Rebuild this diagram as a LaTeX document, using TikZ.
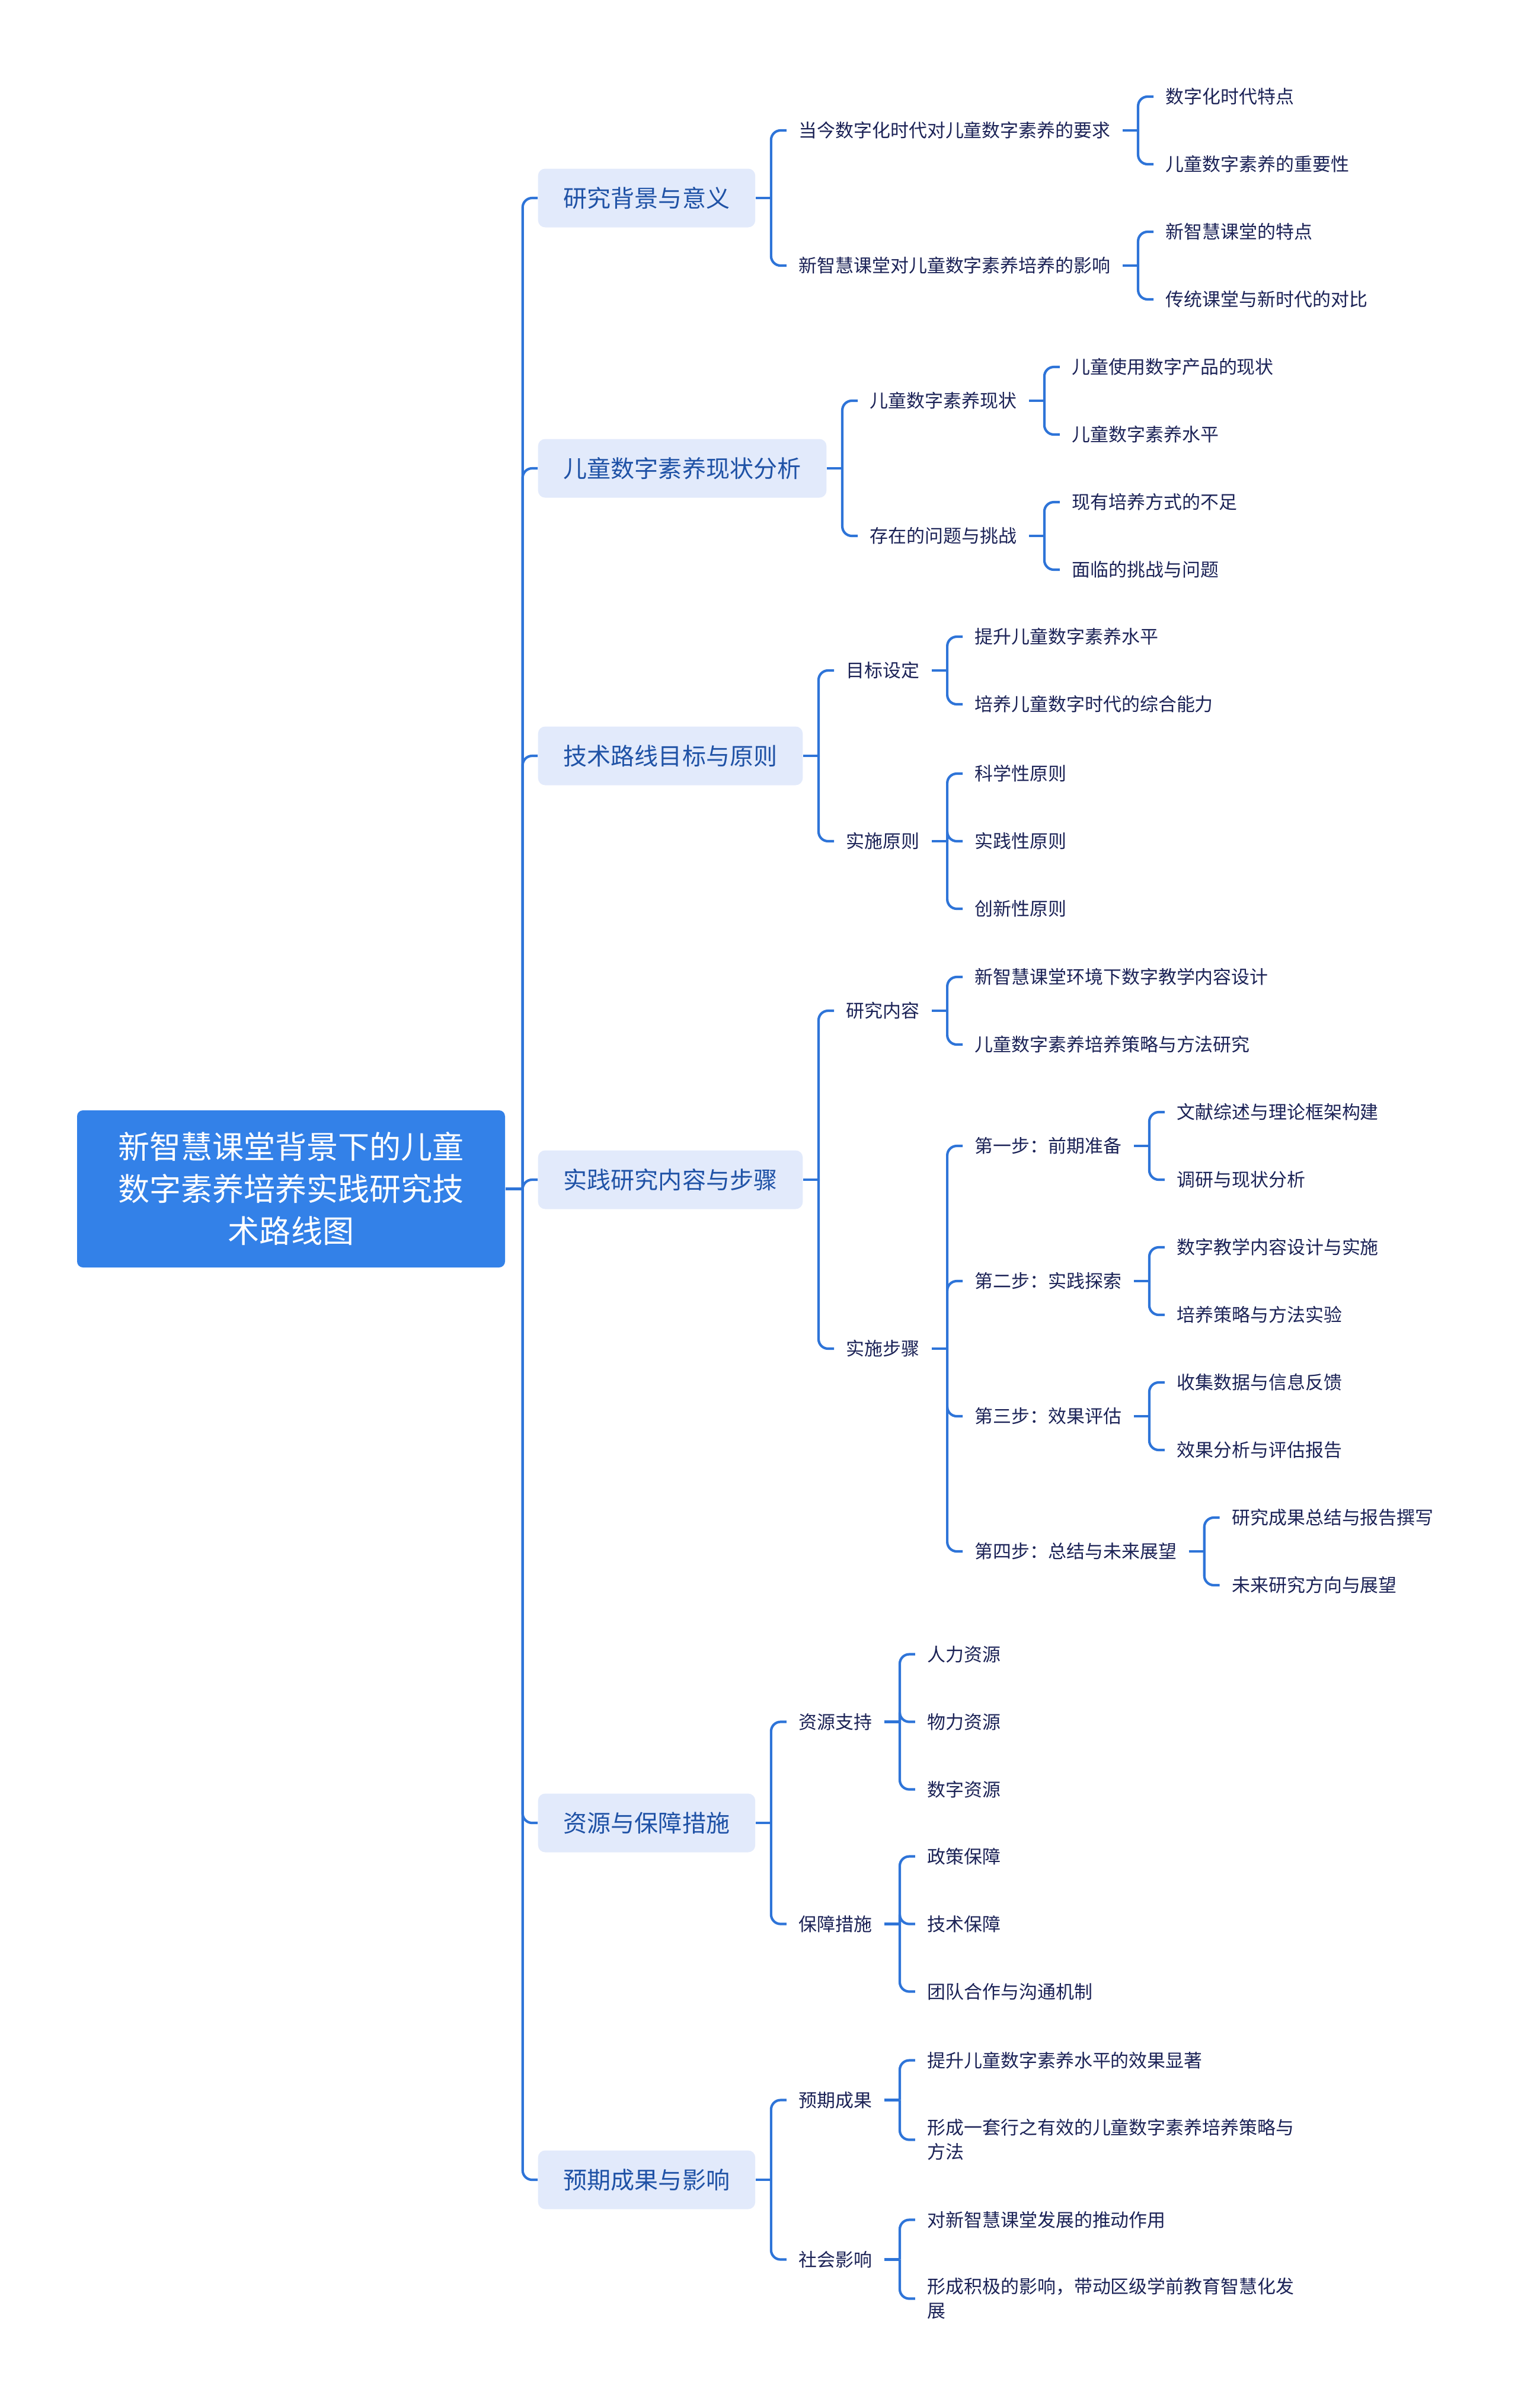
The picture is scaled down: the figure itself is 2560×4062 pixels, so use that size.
\documentclass[tikz,border=0pt]{standalone}
\usepackage{fontspec}
\setmainfont{Noto Sans CJK SC}
\usepackage{xcolor}
\usepackage{tikz}
\usetikzlibrary{positioning,calc}
\definecolor{rootblue}{HTML}{3381E8}
\definecolor{topicfill}{HTML}{E2EAFB}
\definecolor{topicink}{HTML}{1F52A6}
\definecolor{leafink}{HTML}{1B2256}
\definecolor{linkblue}{HTML}{2E74D8}
\tikzset{
  % ---- blocks ---------------------------------------------------------
  rootbox/.style={
    fill=rootblue, rounded corners=1mm, text=white,
    minimum width=72.2mm, minimum height=26.5mm, align=center,
    font=\fontsize{15.1pt}{20.2pt}\selectfont},
  topic/.style={
    fill=topicfill, rounded corners=1.2mm, text=topicink, anchor=west,
    minimum height=9.9mm, inner xsep=4.3mm,
    font=\fontsize{11.4pt}{14pt}\selectfont},
  leaf/.style={
    text=leafink, anchor=west, align=left, inner xsep=2mm, inner ysep=1mm,
    font=\fontsize{8.8pt}{11.7pt}\selectfont},
  % ---- connections ----------------------------------------------------
  link/.style={draw=linkblue, line width=0.42mm, rounded corners=1.6mm},
}

\begin{document}
\begin{tikzpicture}[x=0.1mm, y=-0.1mm]
\useasboundingbox (0,0) rectangle (2560,4062);

% ---------------- root and main topics -------------------------------
\node[rootbox] (root) at (491,2005.5)
  {新智慧课堂背景下的儿童\\数字素养培养实践研究技\\术路线图};
\coordinate (hub) at ([xshift=2.9mm]root.east);
\draw[link] (root.east) -- (hub);

\node[topic] (bg)   at (907,334)  {研究背景与意义};
\node[topic] (now)  at (907,790)  {儿童数字素养现状分析};
\node[topic] (goal) at (907,1275) {技术路线目标与原则};
\node[topic] (prac) at (907,1990) {实践研究内容与步骤};
\node[topic] (res)  at (907,3075) {资源与保障措施};
\node[topic] (out)  at (907,3677) {预期成果与影响};

\foreach \t in {bg,now,goal,prac,res,out}
  \draw[link] (hub) |- (\t.west);

% ---------------- background -----------------------------------------
\node[leaf] (bg1) at ([xshift=5.2mm,yshift=11.4mm]bg.east) {当今数字化时代对儿童数字素养的要求};
\node[leaf] (bg2) at ([xshift=5.2mm,yshift=-11.4mm]bg.east) {新智慧课堂对儿童数字素养培养的影响};
\node[leaf] (bg11) at ([xshift=5.2mm,yshift=5.7mm]bg1.east) {数字化时代特点};
\node[leaf] (bg12) at ([xshift=5.2mm,yshift=-5.7mm]bg1.east) {儿童数字素养的重要性};
\node[leaf] (bg21) at ([xshift=5.2mm,yshift=5.7mm]bg2.east) {新智慧课堂的特点};
\node[leaf] (bg22) at ([xshift=5.2mm,yshift=-5.7mm]bg2.east) {传统课堂与新时代的对比};

% ---------------- current state --------------------------------------
\node[leaf] (now1) at ([xshift=5.2mm,yshift=11.4mm]now.east) {儿童数字素养现状};
\node[leaf] (now2) at ([xshift=5.2mm,yshift=-11.4mm]now.east) {存在的问题与挑战};
\node[leaf] (now11) at ([xshift=5.2mm,yshift=5.7mm]now1.east) {儿童使用数字产品的现状};
\node[leaf] (now12) at ([xshift=5.2mm,yshift=-5.7mm]now1.east) {儿童数字素养水平};
\node[leaf] (now21) at ([xshift=5.2mm,yshift=5.7mm]now2.east) {现有培养方式的不足};
\node[leaf] (now22) at ([xshift=5.2mm,yshift=-5.7mm]now2.east) {面临的挑战与问题};

% ---------------- goals and principles -------------------------------
\node[leaf] (goal1) at ([xshift=5.2mm,yshift=14.4mm]goal.east) {目标设定};
\node[leaf] (goal2) at ([xshift=5.2mm,yshift=-14.4mm]goal.east) {实施原则};
\node[leaf] (goal11) at ([xshift=5.2mm,yshift=5.7mm]goal1.east) {提升儿童数字素养水平};
\node[leaf] (goal12) at ([xshift=5.2mm,yshift=-5.7mm]goal1.east) {培养儿童数字时代的综合能力};
\node[leaf] (goal21) at ([xshift=5.2mm,yshift=11.4mm]goal2.east) {科学性原则};
\node[leaf] (goal22) at ([xshift=5.2mm]goal2.east) {实践性原则};
\node[leaf] (goal23) at ([xshift=5.2mm,yshift=-11.4mm]goal2.east) {创新性原则};

% ---------------- content and steps ----------------------------------
\node[leaf] (prac1) at ([xshift=5.2mm,yshift=28.5mm]prac.east) {研究内容};
\node[leaf] (prac2) at ([xshift=5.2mm,yshift=-28.5mm]prac.east) {实施步骤};
\node[leaf] (prac11) at ([xshift=5.2mm,yshift=5.7mm]prac1.east) {新智慧课堂环境下数字教学内容设计};
\node[leaf] (prac12) at ([xshift=5.2mm,yshift=-5.7mm]prac1.east) {儿童数字素养培养策略与方法研究};
\node[leaf] (step1) at ([xshift=5.2mm,yshift=34.2mm]prac2.east) {第一步：前期准备};
\node[leaf] (step2) at ([xshift=5.2mm,yshift=11.4mm]prac2.east) {第二步：实践探索};
\node[leaf] (step3) at ([xshift=5.2mm,yshift=-11.4mm]prac2.east) {第三步：效果评估};
\node[leaf] (step4) at ([xshift=5.2mm,yshift=-34.2mm]prac2.east) {第四步：总结与未来展望};
\node[leaf] (step11) at ([xshift=5.2mm,yshift=5.7mm]step1.east) {文献综述与理论框架构建};
\node[leaf] (step12) at ([xshift=5.2mm,yshift=-5.7mm]step1.east) {调研与现状分析};
\node[leaf] (step21) at ([xshift=5.2mm,yshift=5.7mm]step2.east) {数字教学内容设计与实施};
\node[leaf] (step22) at ([xshift=5.2mm,yshift=-5.7mm]step2.east) {培养策略与方法实验};
\node[leaf] (step31) at ([xshift=5.2mm,yshift=5.7mm]step3.east) {收集数据与信息反馈};
\node[leaf] (step32) at ([xshift=5.2mm,yshift=-5.7mm]step3.east) {效果分析与评估报告};
\node[leaf] (step41) at ([xshift=5.2mm,yshift=5.7mm]step4.east) {研究成果总结与报告撰写};
\node[leaf] (step42) at ([xshift=5.2mm,yshift=-5.7mm]step4.east) {未来研究方向与展望};

% ---------------- resources ------------------------------------------
\node[leaf] (res1) at ([xshift=5.2mm,yshift=17.05mm]res.east) {资源支持};
\node[leaf] (res2) at ([xshift=5.2mm,yshift=-17.05mm]res.east) {保障措施};
\node[leaf] (res11) at ([xshift=5.2mm,yshift=11.4mm]res1.east) {人力资源};
\node[leaf] (res12) at ([xshift=5.2mm]res1.east) {物力资源};
\node[leaf] (res13) at ([xshift=5.2mm,yshift=-11.4mm]res1.east) {数字资源};
\node[leaf] (res21) at ([xshift=5.2mm,yshift=11.4mm]res2.east) {政策保障};
\node[leaf] (res22) at ([xshift=5.2mm]res2.east) {技术保障};
\node[leaf] (res23) at ([xshift=5.2mm,yshift=-11.4mm]res2.east) {团队合作与沟通机制};

% ---------------- outcomes -------------------------------------------
\node[leaf] (out1) at ([xshift=5.2mm,yshift=13.45mm]out.east) {预期成果};
\node[leaf] (out2) at ([xshift=5.2mm,yshift=-13.45mm]out.east) {社会影响};
\node[leaf] (out11) at ([xshift=5.2mm,yshift=6.7mm]out1.east) {提升儿童数字素养水平的效果显著};
\node[leaf] (out12) at ([xshift=5.2mm,yshift=-6.7mm]out1.east) {形成一套行之有效的儿童数字素养培养策略与\\方法};
\node[leaf] (out21) at ([xshift=5.2mm,yshift=6.7mm]out2.east) {对新智慧课堂发展的推动作用};
\node[leaf] (out22) at ([xshift=5.2mm,yshift=-6.6mm]out2.east) {形成积极的影响，带动区级学前教育智慧化发\\展};

% ---------------- connectors -----------------------------------------
\foreach \p/\kids in {bg/{bg1,bg2}, bg1/{bg11,bg12}, bg2/{bg21,bg22},
    now/{now1,now2}, now1/{now11,now12}, now2/{now21,now22},
    goal/{goal1,goal2}, goal1/{goal11,goal12}, goal2/{goal21,goal22,goal23},
    prac/{prac1,prac2}, prac1/{prac11,prac12},
    prac2/{step1,step2,step3,step4},
    step1/{step11,step12}, step2/{step21,step22},
    step3/{step31,step32}, step4/{step41,step42},
    res/{res1,res2}, res1/{res11,res12,res13}, res2/{res21,res22,res23},
    out/{out1,out2}, out1/{out11,out12}, out2/{out21,out22}}{
  \draw[link] (\p.east) -- ++(2.6mm,0) coordinate (\p-s);
  \foreach \c in \kids
    \draw[link] (\p-s) |- (\c.west);
}

\end{tikzpicture}
\end{document}
